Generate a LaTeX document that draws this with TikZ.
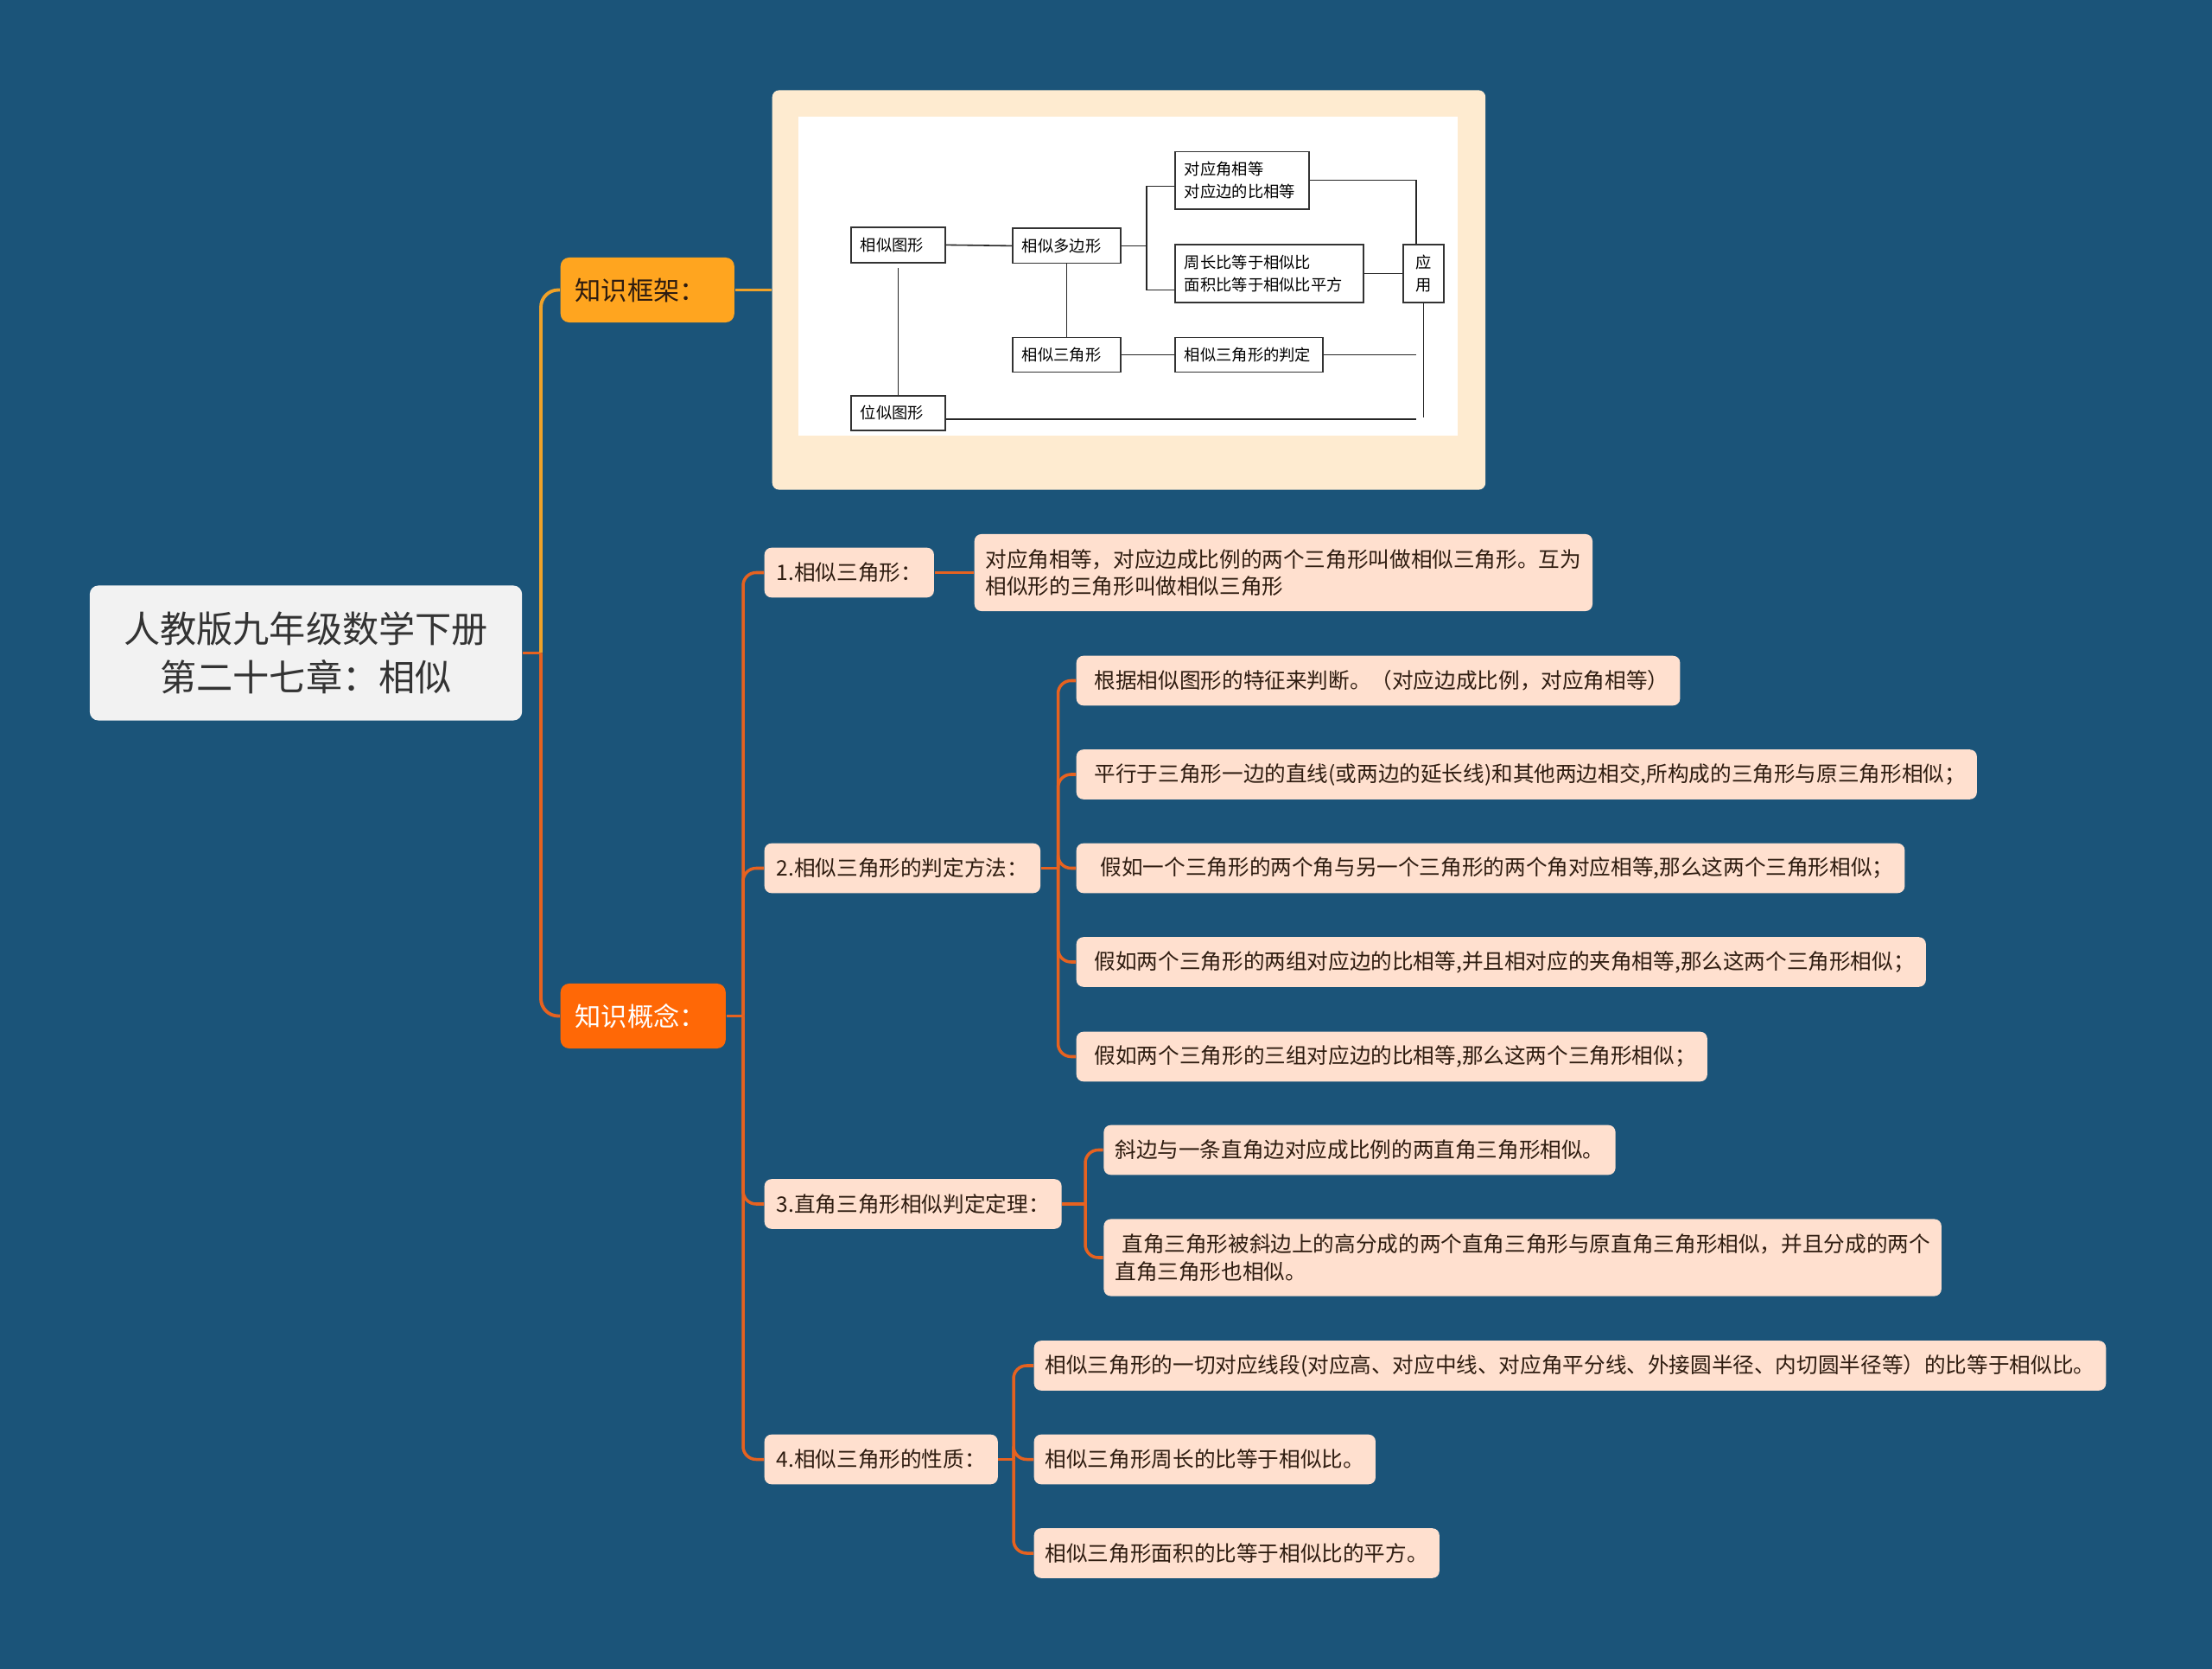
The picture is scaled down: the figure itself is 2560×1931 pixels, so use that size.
\documentclass[tikz,border=0pt]{standalone}
\usepackage{fontspec}
\setmainfont{Noto Sans CJK SC}
\definecolor{bgblue}{RGB}{27,84,121}
\definecolor{rootgray}{RGB}{242,242,242}
\definecolor{kjorange}{RGB}{255,165,31}
\definecolor{knorange}{RGB}{255,104,6}
\definecolor{peach}{RGB}{255,224,207}
\definecolor{cream}{RGB}{254,235,208}
\definecolor{upline}{RGB}{240,162,40}
\definecolor{lowline}{RGB}{230,98,32}
\definecolor{darktext}{RGB}{46,28,16}

\begin{document}
\begin{tikzpicture}[x=0.01cm, y=-0.01cm,
    root/.style={fill=rootgray, rounded corners=0.1cm, align=center, text=black!80, minimum width=5cm, minimum height=1.56cm, font=\fontsize{12}{15.8}\selectfont},
    topic/.style={rounded corners=0.1cm, align=left, anchor=west, inner xsep=0.17cm, minimum height=0.75cm, font=\fontsize{8.6}{10}\selectfont},
    sub/.style={fill=peach, rounded corners=0.08cm, align=left, anchor=west, inner xsep=0.14cm, minimum height=0.575cm, text=darktext, font=\fontsize{7}{9}\selectfont},
    leaf/.style={sub, inner xsep=0.13cm},
    link/.style={lowline, line width=1pt, rounded corners=0.15cm},
    fbox/.style={draw=black!80, line width=0.5pt, fill=white, anchor=north west, align=left, inner xsep=0.11cm, inner ysep=0pt, font=\fontsize{5.2}{7.5}\selectfont},
    fline/.style={black!85, line width=0.45pt}]

\fill[bgblue] (0,0) rectangle (2560,1931);
\useasboundingbox (0,0) rectangle (2560,1931);

% root and the two topics
\node[root] (root) at (354,755.5) {人教版九年级数学下册\\第二十七章：相似};
\node[topic, fill=kjorange, text=darktext, text width=1.67cm] (kj) at (648,335.5) {知识框架：};
\node[topic, fill=knorange, text=white, text width=1.57cm] (kn) at (648,1175.5) {知识概念：};

% framework picture
\node[fill=cream, rounded corners=0.08cm, minimum width=8.25cm, minimum height=4.62cm, anchor=west] (frame) at (893,335.5) {};
\fill[white] (924,135.5) rectangle (1686.6,504.5);

\node[fbox, text width=0.87cm, minimum height=0.41cm] (xs) at (984,262) {相似图形};
\node[fbox, text width=1.03cm, minimum height=0.40cm] (dbx) at (1171,263.5) {相似多边形};
\node[fbox, text width=1.33cm, minimum height=0.664cm] (dyj) at (1359,174.6) {对应角相等\\对应边的比相等};
\node[fbox, text width=1.96cm, minimum height=0.67cm] (zcb) at (1359,282) {周长比等于相似比\\面积比等于相似比平方};
\node[fbox, text width=0.25cm, align=center, minimum height=0.67cm] (yy) at (1623,282) {应\\用};
\node[fbox, text width=1.03cm, minimum height=0.40cm] (sjx) at (1171,389.6) {相似三角形};
\node[fbox, text width=1.49cm, minimum height=0.40cm] (pd) at (1359,389.6) {相似三角形的判定};
\node[fbox, text width=0.87cm, minimum height=0.40cm] (wx) at (984,457) {位似图形};

\coordinate (fa) at (1327,215.5);
\coordinate (fb) at (1327,335.7);
\coordinate (fc) at (1639,408);
\coordinate (fd) at (1646.5,483);
\draw[fline] (xs.east) -- (dbx.west);
\draw[fline] (dbx.east) -- (dbx.east -| fa);
\draw[fline] (dyj.west |- fa) -| (fb) -- (zcb.west |- fb);
\draw[fline] (dyj.east) -| ([xshift=-0.085cm]yy.north);
\draw[fline] (zcb.east) -- (yy.west);
\draw[fline] (dbx.south) -- (sjx.north);
\draw[fline] (sjx.east) -- (pd.west);
\draw[fline] (pd.east) -- (pd.east -| fc);
\draw[fline] (yy.south) -- (yy.south |- fd);
\draw[fline] ([yshift=-0.07cm]wx.east) -- ([yshift=-0.07cm]wx.east -| fc);
\draw[fline] ([yshift=-0.05cm]xs.south) -- (wx.north);

% concepts
\node[sub] (c1) at (884,662.5) {1.相似三角形：};
\node[sub] (c2) at (884,1004.5) {2.相似三角形的判定方法：};
\node[sub] (c3) at (884,1393) {3.直角三角形相似判定定理：};
\node[sub] (c4) at (884,1688.5) {4.相似三角形的性质：};

\node[leaf, minimum height=0.89cm] (l1) at (1127,662.5) {对应角相等，对应边成比例的两个三角形叫做相似三角形。互为\\相似形的三角形叫做相似三角形};

\node[leaf] (l2a) at (1245,787.5) {\hspace*{0.08cm}根据相似图形的特征来判断。（对应边成比例，对应角相等）};
\node[leaf] (l2b) at (1245,896) {\hspace*{0.08cm}平行于三角形一边的直线(或两边的延长线)和其他两边相交,所构成的三角形与原三角形相似；};
\node[leaf] (l2c) at (1245,1004.5) {\hspace*{0.15cm}假如一个三角形的两个角与另一个三角形的两个角对应相等,那么这两个三角形相似；};
\node[leaf] (l2d) at (1245,1113) {\hspace*{0.08cm}假如两个三角形的两组对应边的比相等,并且相对应的夹角相等,那么这两个三角形相似；};
\node[leaf] (l2e) at (1245,1222.5) {\hspace*{0.08cm}假如两个三角形的三组对应边的比相等,那么这两个三角形相似；};

\node[leaf] (l3a) at (1276.7,1330.5) {斜边与一条直角边对应成比例的两直角三角形相似。};
\node[leaf, minimum height=0.89cm] (l3b) at (1276.7,1455) {\hspace*{0.08cm}直角三角形被斜边上的高分成的两个直角三角形与原直角三角形相似，并且分成的两个\\直角三角形也相似。};

\node[leaf] (l4a) at (1196,1580) {相似三角形的一切对应线段(对应高、对应中线、对应角平分线、外接圆半径、内切圆半径等）的比等于相似比。};
\node[leaf] (l4b) at (1196,1688.5) {相似三角形周长的比等于相似比。};
\node[leaf] (l4c) at (1196,1797) {相似三角形面积的比等于相似比的平方。};

% connectors
\coordinate (rj) at (626,755.5);
\coordinate (kt) at (860,1175.5);
\coordinate (j2) at (1224.5,1004.5);
\coordinate (j3) at (1256,1393);
\coordinate (j4) at (1173,1688.5);
\draw[lowline, line width=1.1pt] (root.east) -- (rj);
\draw[upline, line width=1.1pt, rounded corners=0.2cm] (rj) |- (kj.west);
\draw[lowline, line width=1.1pt, rounded corners=0.2cm] (rj) |- (kn.west);
\draw[upline, line width=1.1pt] (kj.east) -- (frame.west);

\draw[link] (kn.east) -- (kt);
\foreach \n in {c1,c2,c3,c4} \draw[link] (kt) |- (\n.west);
\draw[link] (c1.east) -- (l1.west);
\draw[link] (c2.east) -- (j2);
\foreach \n in {a,...,e} \draw[link] (j2) |- (l2\n.west);
\draw[link] (c3.east) -- (j3);
\foreach \n in {a,b} \draw[link] (j3) |- (l3\n.west);
\draw[link] (c4.east) -- (j4);
\foreach \n in {a,b,c} \draw[link] (j4) |- (l4\n.west);
\end{tikzpicture}
\end{document}
